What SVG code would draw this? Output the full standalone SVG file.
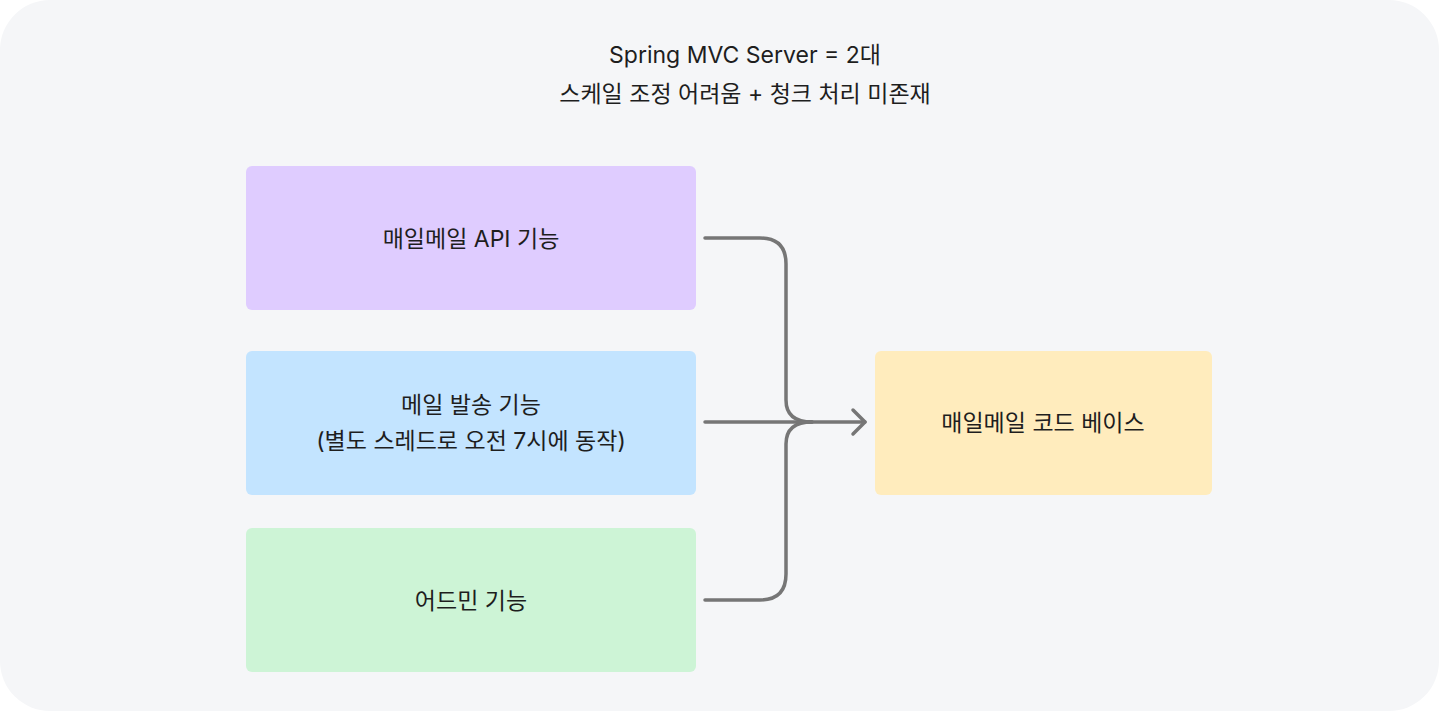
<svg xmlns="http://www.w3.org/2000/svg" width="1439" height="711" viewBox="0 0 1439 711">
<style>
text{font-family:"Inter","Noto Sans CJK KR",sans-serif;font-size:23px;font-weight:400;fill:#1e1e1e;text-anchor:middle;dominant-baseline:central}
.c{fill:none;stroke:#767676;stroke-width:3.5;stroke-linecap:round;stroke-linejoin:round}
</style>
<rect x="0" y="0" width="1439" height="711" fill="#ffffff"/>
<rect x="0" y="0" width="1439" height="711" rx="50" fill="#f5f6f8"/>
<g id="title">
<text x="745" y="55">Spring MVC Server = 2대</text>
<text x="745" y="94">스케일 조정 어려움 + 청크 처리 미존재</text>
</g>
<g id="node-api">
<rect x="246" y="166" width="450" height="144" rx="6" fill="#dfccff"/>
<text x="471" y="239">매일메일 API 기능</text>
</g>
<g id="node-mail">
<rect x="246" y="351" width="450" height="144" rx="6" fill="#c3e4ff"/>
<text x="471" y="405">메일 발송 기능</text>
<text x="471" y="441">(별도 스레드로 오전 7시에 동작)</text>
</g>
<g id="node-admin">
<rect x="246" y="528" width="450" height="144" rx="6" fill="#cdf4d6"/>
<text x="471" y="601">어드민 기능</text>
</g>
<g id="node-code">
<rect x="875" y="351" width="337" height="144" rx="6" fill="#ffecbd"/>
<text x="1043" y="423">매일메일 코드 베이스</text>
</g>
<g id="connectors">
<path class="c" d="M705 238 H760 Q786 238 786 264 V400 Q786 422 812 422"/>
<path class="c" d="M705 600 H760 Q786 600 786 574 V444 Q786 422 812 422"/>
<path class="c" d="M705 422 H865"/>
<path class="c" d="M853 410 L865 422 L853 434"/>
</g>
</svg>
